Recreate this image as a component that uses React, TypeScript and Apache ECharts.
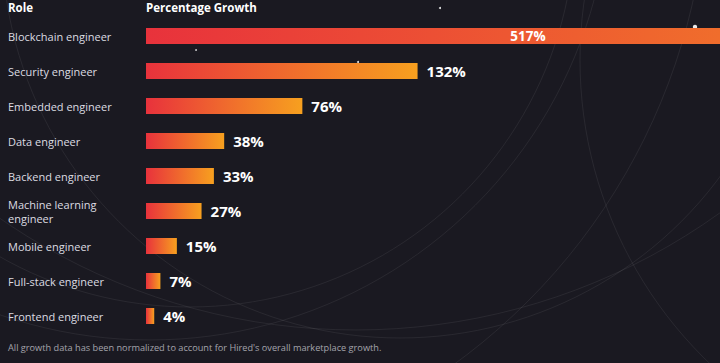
import React, { useEffect, useRef } from "react";
import * as echarts from "echarts";

const roles = [
  "Blockchain engineer",
  "Security engineer",
  "Embedded engineer",
  "Data engineer",
  "Backend engineer",
  "Machine learning\nengineer",
  "Mobile engineer",
  "Full-stack engineer",
  "Frontend engineer",
];
const growth = [517, 132, 76, 38, 33, 27, 15, 7, 4];
const headerRole = "Role";
const headerGrowth = "Percentage Growth";
const footnote = "All growth data has been normalized to account for Hired's overall marketplace growth.";

const BG = "#1a1921";
const RED = "#e8323c";
const ORANGE = "#f7a01f";

export default function App() {
  const ref = useRef<HTMLDivElement>(null);
  useEffect(() => {
    if (!ref.current) return;
    const chart = echarts.init(ref.current, null, { renderer: "svg" });
    const grad = (end: string) =>
      new echarts.graphic.LinearGradient(0, 0, 1, 0, [
        { offset: 0, color: RED },
        { offset: 1, color: end },
      ]);
    const arcStyle = { fill: "none", stroke: "rgba(255,255,255,0.065)", lineWidth: 1 };
    const star = (cx: number, cy: number, r: number) => ({
      type: "circle",
      silent: true,
      shape: { cx, cy, r },
      style: { fill: "rgba(255,255,255,0.9)" },
      z: 0,
    });
    chart.setOption({
      animation: false,
      backgroundColor: BG,
      grid: { left: 146, right: 0, top: 18.5, bottom: 29.5, containLabel: false },
      xAxis: {
        type: "value",
        min: 0,
        max: 279,
        show: false,
      },
      yAxis: {
        type: "category",
        data: roles,
        inverse: true,
        axisLine: { show: false },
        axisTick: { show: false },
        splitLine: { show: false },
        axisLabel: {
          align: "left",
          margin: 138,
          color: "#dcdce2",
          fontSize: 11,
          lineHeight: 14,
          fontFamily: "Open Sans",
        },
      },
      graphic: [
        { type: "circle", silent: true, z: 0, shape: { cx: 190, cy: -78, r: 385 }, style: arcStyle },
        { type: "circle", silent: true, z: 0, shape: { cx: 150, cy: -120, r: 460 }, style: arcStyle },
        { type: "circle", silent: true, z: 0, shape: { cx: 92, cy: -134, r: 616 }, style: arcStyle },
        { type: "circle", silent: true, z: 0, shape: { cx: 356, cy: -294, r: 624 }, style: arcStyle },
        { type: "circle", silent: true, z: 0, shape: { cx: 400, cy: -60, r: 398 }, style: arcStyle },
        { type: "circle", silent: true, z: 0, shape: { cx: 1000, cy: 60, r: 420 }, style: arcStyle },
        star(440, 8, 1),
        star(196, 50, 0.8),
        star(358, 62, 1),
        star(695, 27, 2.2),
        {
          type: "text",
          left: 8,
          top: 1,
          style: { text: headerRole, fill: "#ffffff", fontSize: 11.5, fontWeight: "bold", fontFamily: "Open Sans" },
        },
        {
          type: "text",
          left: 146,
          top: 1,
          style: { text: headerGrowth, fill: "#ffffff", fontSize: 11.5, fontWeight: "bold", fontFamily: "Open Sans" },
        },
        {
          type: "text",
          left: 8,
          top: 343,
          style: { text: footnote, fill: "#a4a4ac", fontSize: 9.2, fontFamily: "Open Sans" },
        },
      ],
      series: [
        {
          type: "bar",
          barWidth: 16,
          clip: true,
          z: 2,
          data: growth.map((v, i) =>
            i === 0
              ? {
                  value: v,
                  itemStyle: { color: grad("#f06d2c") },
                  label: {
                    position: [382, "50%"],
                    align: "center",
                    verticalAlign: "middle",
                    fontSize: 13.5,
                  },
                }
              : { value: v }
          ),
          itemStyle: { color: grad(ORANGE) },
          label: {
            show: true,
            position: "right",
            distance: 9,
            formatter: "{c}%",
            color: "#ffffff",
            fontSize: 15,
            fontWeight: "bold",
            fontFamily: "Open Sans",
          },
        },
      ],
    });
    return () => chart.dispose();
  }, []);
  return (
    <div
      ref={ref}
      style={{ position: "fixed", left: 0, top: 0, width: 720, height: 363 }}
    />
  );
}
